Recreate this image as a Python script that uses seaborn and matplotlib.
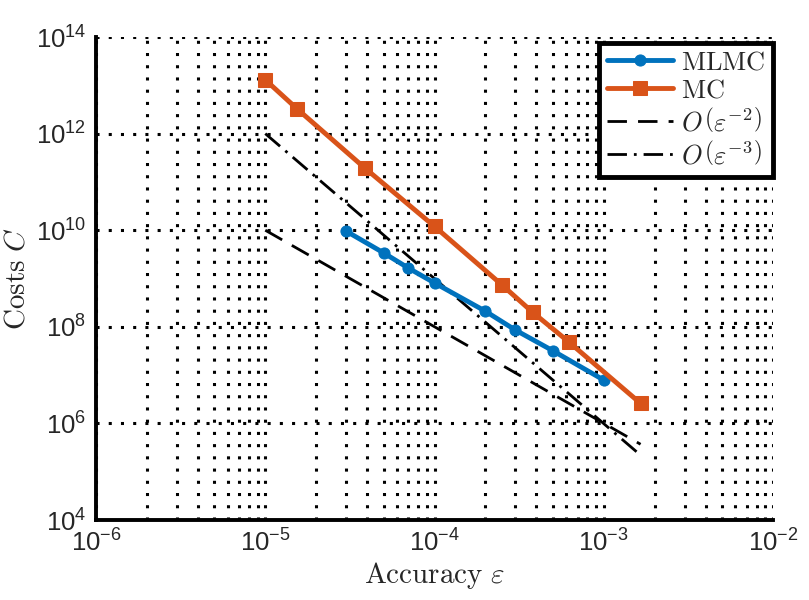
import numpy as np
import pandas as pd
import matplotlib
matplotlib.use('Agg')
import matplotlib.pyplot as plt
import matplotlib.ticker as mticker
from matplotlib.font_manager import FontProperties
import seaborn as sns

# values
eps_mlmc = [3e-5, 5e-5, 7e-5, 1e-4, 2e-4, 3e-4, 5e-4, 1e-3]
cost_mlmc = [9.6e9, 3.4e9, 1.65e9, 8.1e8, 2.1e8, 8.6e7, 3.2e7, 7.9e6]

eps_mc = [1e-5, 1.55e-5, 3.9e-5, 1e-4, 2.5e-4, 3.8e-4, 6.2e-4, 1.65e-3]
cost_mc = [1.3e13, 3.2e12, 1.9e11, 1.2e10, 7.4e8, 2.0e8, 4.9e7, 2.6e6]

eps_ref = [1e-5, 1.65e-3]
cost_ref2 = [1e10, 3.7e5]
cost_ref3 = [1e12, 2.2e5]

blue = '#0072BD'
orange = '#D95319'

sns.set_style('white')
plt.rcParams['font.family'] = ['Liberation Sans', 'DejaVu Sans']
plt.rcParams['mathtext.fontset'] = 'custom'
plt.rcParams['mathtext.rm'] = 'Liberation Sans'
plt.rcParams['mathtext.it'] = 'Liberation Sans:italic'

fig = plt.figure(figsize=(8.09, 6), dpi=100)
ax = fig.add_axes([0.1187, 0.1333, 0.8368, 0.805])

df_mlmc = pd.DataFrame({'eps': eps_mlmc, 'cost': cost_mlmc})
df_mc = pd.DataFrame({'eps': eps_mc, 'cost': cost_mc})
df_ref = pd.DataFrame({'eps': eps_ref, 'c2': cost_ref2, 'c3': cost_ref3})

sns.lineplot(data=df_mlmc, x='eps', y='cost', ax=ax, color=blue, lw=3.5,
             marker='o', markersize=8, markeredgecolor=blue,
             label=r'$\mathrm{MLMC}$', zorder=4)
sns.lineplot(data=df_mc, x='eps', y='cost', ax=ax, color=orange, lw=3.5,
             marker='s', markersize=10, markeredgecolor=orange,
             label=r'$\mathrm{MC}$', zorder=4)
sns.lineplot(data=df_ref, x='eps', y='c2', ax=ax, color='black', lw=2,
             linestyle=(0, (7, 4)), label=r'$O\,\left(\varepsilon^{-2}\right)$', zorder=3)
sns.lineplot(data=df_ref, x='eps', y='c3', ax=ax, color='black', lw=2,
             linestyle=(0, (7, 2.5, 1, 2.5)), label=r'$O\,\left(\varepsilon^{-3}\right)$', zorder=3)

ax.set_xscale('log')
ax.set_yscale('log')
ax.set_xlim(1e-6, 1e-2)
ax.set_ylim(1e4, 1e14)

ax.xaxis.set_major_locator(mticker.LogLocator(base=10, numticks=10))
ax.xaxis.set_minor_locator(mticker.LogLocator(base=10, subs=np.arange(2, 10), numticks=20))
ax.yaxis.set_major_locator(mticker.FixedLocator([1e4, 1e6, 1e8, 1e10, 1e12, 1e14]))
ax.yaxis.set_minor_locator(mticker.NullLocator())
fmt = mticker.FuncFormatter(lambda v, p: r'$10^{%d}$' % round(np.log10(v)))
ax.xaxis.set_major_formatter(fmt)
ax.yaxis.set_major_formatter(fmt)

grid_kw = dict(color='black', linestyle=(0, (1, 3)), linewidth=2.2)
ax.grid(True, which='major', axis='both', **grid_kw)
ax.grid(True, which='minor', axis='x', **grid_kw)

ax.tick_params(axis='both', which='major', direction='in', length=5, width=1.5,
               labelsize=18.5, pad=7)
ax.tick_params(axis='x', which='minor', direction='in', length=3, width=1.2)

for side in ['top', 'right']:
    ax.spines[side].set_visible(False)
for side in ['left', 'bottom']:
    ax.spines[side].set_linewidth(2.8)
    ax.spines[side].set_color('black')

ax.set_xlabel(r'$\mathrm{Accuracy}\ \varepsilon$', fontsize=21, math_fontfamily='cm', labelpad=2)
ax.set_ylabel(r'$\mathrm{Costs}\ C$', fontsize=21, math_fontfamily='cm', labelpad=4)

leg = ax.legend(loc='upper right', bbox_to_anchor=(1.0, 0.988), borderaxespad=0,
                fancybox=False, framealpha=1, edgecolor='black', handlelength=2.5,
                prop=FontProperties(size=19, math_fontfamily='cm'), labelspacing=0.15,
                handletextpad=0.3, borderpad=0.3)
leg.get_frame().set_linewidth(3.5)
leg.set_zorder(10)

fig.savefig('out.png', dpi=100)
